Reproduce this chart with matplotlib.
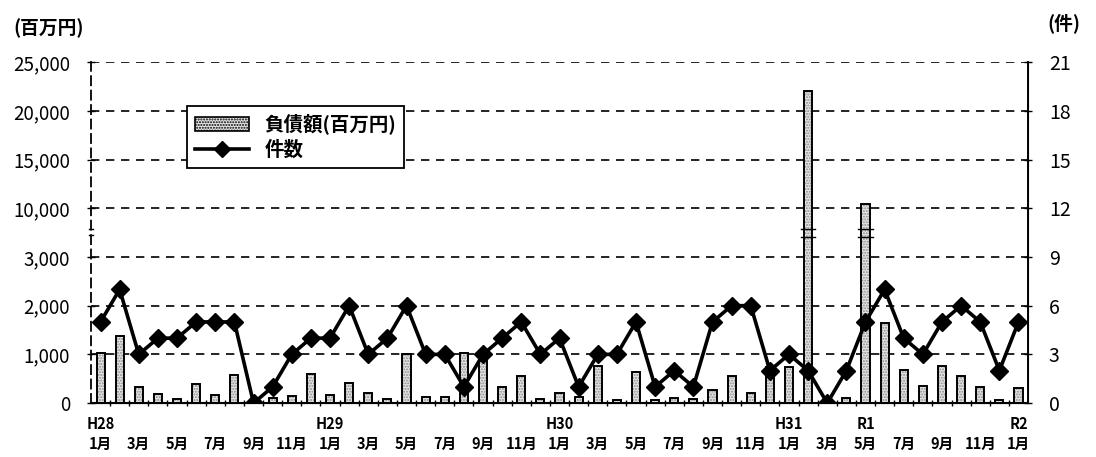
import numpy as np
import matplotlib
matplotlib.use('Agg')
import matplotlib.pyplot as plt
from matplotlib.patches import Patch
from matplotlib.lines import Line2D

plt.rcParams['font.family'] = ['Noto Sans CJK JP', 'DejaVu Sans']

# monthly data, H28 1月 .. R2 1月
eras = {0: 'H28', 12: 'H29', 24: 'H30', 36: 'H31', 40: 'R1', 48: 'R2'}
debt = [1020, 1370, 330, 180, 80, 385, 170, 585, 0, 100, 137, 590, 172, 420,
        213, 85, 1010, 123, 115, 1030, 980, 330, 550, 85, 205, 123,
        760, 55, 637, 55, 103, 76, 275, 555, 205, 740, 750, 22000,
        0, 110, 10400, 1650, 686, 357, 770, 555, 330, 70, 308]
counts = [5, 7, 3, 4, 4, 5, 5, 5, 0, 1, 3, 4, 4, 6, 3, 4, 6, 3, 3, 1, 3, 4, 5, 3, 4, 1,
          3, 3, 5, 1, 2, 1, 5, 6, 6, 2, 3, 2, 0, 2, 5, 7, 4, 3, 5, 6, 5, 2, 5]
left_ticks = [0, 1000, 2000, 3000, 10000, 15000, 20000, 25000]
right_ticks = [0, 3, 6, 9, 12, 15, 18, 21]

x = np.arange(len(debt))
labels = []
for i in x:
    if i % 2:
        labels.append('')
    else:
        labels.append(eras.get(i, '') + '\n' + f'{i % 12 + 1}月')


# broken axis: 0-3000 -> 0-9, 10000-25000 -> 12-21
def fwd(v):
    v = np.asarray(v, dtype=float)
    return np.where(v <= 3000, v * 0.003,
                    np.where(v <= 10000, 9 + (v - 3000) * 3 / 7000,
                             12 + (v - 10000) * 3 / 5000))


def inv(u):
    u = np.asarray(u, dtype=float)
    return np.where(u <= 9, u / 0.003,
                    np.where(u <= 12, 3000 + (u - 9) * 7000 / 3,
                             10000 + (u - 12) * 5000 / 3))


fig = plt.figure(figsize=(10.96, 4.57), dpi=100)
ax = fig.add_axes([0.083, 0.118, 0.855, 0.746])
ax.set_yscale('function', functions=(fwd, inv))
ax.set_ylim(0, 25000)
ax.set_xlim(-0.5, 48.5)

w = 0.42
ax.bar(x, debt, width=w, color='#e6e6e6', hatch='......', edgecolor='#8a8a8a', linewidth=0, zorder=2)
ax.bar(x, debt, width=w, fill=False, edgecolor='black', linewidth=1.4, zorder=3)

ax.set_yticks(left_ticks)
ax.set_yticklabels([f'{t:,}' for t in left_ticks], fontsize=13.5)
ax.yaxis.set_minor_locator(plt.NullLocator())
ax.set_axisbelow(True)
ax.grid(axis='y', color='black', linestyle=(0, (5, 4)), linewidth=1.2)
ax.grid(axis='x', visible=False)
ax.tick_params(axis='y', direction='inout', length=6, width=1, pad=12)

ax.set_xticks(x[::2])
ax.set_xticklabels(labels[::2], fontsize=10.5, fontweight='bold', linespacing=1.3)
ax.set_xticks(x[:-1] + 0.5, minor=True)
ax.tick_params(axis='x', which='major', length=0, pad=9)
ax.tick_params(axis='x', which='minor', direction='inout', length=5, width=1)

ax.spines['top'].set_visible(False)
ax.spines['left'].set_linestyle((0, (5, 3)))
ax.spines['left'].set_linewidth(1.3)
ax.spines['bottom'].set_linewidth(1.5)

ax2 = ax.twinx()
ax2.set_ylim(0, 21)
ax2.set_yticks(right_ticks)
ax2.set_yticklabels([str(t) for t in right_ticks], fontsize=14)
ax2.tick_params(axis='y', direction='inout', length=6, width=1, pad=12)
ax2.spines['top'].set_visible(False)
ax2.spines['left'].set_visible(False)
ax2.spines['right'].set_linewidth(1.4)
ax2.plot(x, counts, color='black', lw=2.6, marker='D', ms=9, zorder=5)

# break symbols on the left axis and on bars that cross the gap
for yy in (10.35, 10.7):
    ax2.plot([-0.62, -0.38], [yy, yy], color='black', lw=1, clip_on=False)
for i, v in enumerate(debt):
    if v > 3000:
        for yy in (10.2, 10.75):
            ax2.plot([i - 0.38, i + 0.38], [yy, yy], color='black', lw=1)

handles = [Patch(facecolor='#e6e6e6', hatch='......', edgecolor='black', linewidth=1.2),
           Line2D([], [], color='black', lw=2.6, marker='D', ms=8)]
leg = ax2.legend(handles, ['負債額(百万円)', '件数'], loc='upper left',
                 bbox_to_anchor=(0.092, 0.9), fancybox=False, framealpha=1,
                 edgecolor='black', prop={'size': 14, 'weight': 'bold'},
                 handlelength=2.8, borderpad=0.4, labelspacing=0.3)
leg.get_frame().set_linewidth(1.3)

fig.text(0.012, 0.938, '(百万円)', fontsize=13.5, fontweight='bold', va='center')
fig.text(0.956, 0.949, '(件)', fontsize=13.5, fontweight='bold', va='center')

fig.savefig('out.png', dpi=100)
